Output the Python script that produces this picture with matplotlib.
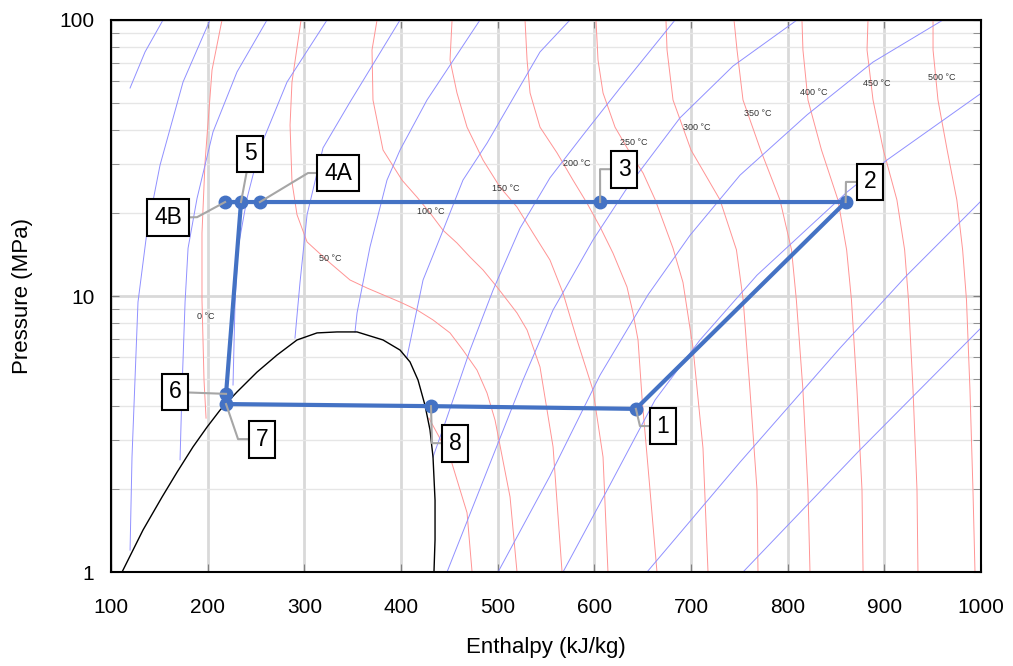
import matplotlib.pyplot as plt
from matplotlib.ticker import FixedLocator, NullLocator, FixedFormatter

# ---- saturation dome (h in kJ/kg, p in MPa) ----
dome_h = [111.4, 133.1, 152.8, 168.3, 184.8, 199.3, 212.8, 230.3, 251.0, 271.7,
          292.4, 313.1, 333.8, 354.5, 381.4, 399.0, 409.3, 417.6, 424.8, 430.0,
          433.1, 435.2, 435.2, 434.1]
dome_p = [1.0, 1.42, 1.87, 2.30, 2.84, 3.35, 3.86, 4.49, 5.30, 6.11,
          6.93, 7.35, 7.41, 7.41, 6.93, 6.37, 5.77, 4.96, 4.02, 3.27,
          2.61, 1.82, 1.31, 1.0]

# ---- isotherms ----
t0_liq_h = [214.8, 204.5, 197.2, 194.1, 194.1, 196.2, 198.3]
t0_liq_p = [100, 65.9, 30.3, 16.9, 9.67, 4.96, 3.61]
t0_vap_h = [428.9, 450.7, 468.3, 473.5]
t0_vap_p = [3.61, 2.61, 1.64, 1.0]
t50_h = [296.6, 287.2, 285.2, 287.2, 292.4, 302.8, 326.6, 347.2, 364.8, 381.4,
         399.0, 416.6, 433.1, 450.7, 464.1, 478.6, 489.0, 497.3, 512.8, 520.0]
t50_p = [100, 59.6, 41.6, 25.9, 19.7, 15.7, 13.17, 11.43, 10.69, 10.1,
         9.51, 8.90, 8.19, 7.35, 6.37, 5.39, 4.45, 3.55, 1.87, 1.0]
t100_h = [375.2, 370.0, 371.0, 381.4, 401.0, 416.6, 430.0, 443.5, 457.9, 471.4,
          484.8, 499.3, 509.7, 520.0, 530.4, 536.6, 543.8, 557.3, 566.6]
t100_p = [100, 77.9, 51.3, 33.8, 26.3, 22.8, 20.0, 17.3, 15.56, 13.84,
          12.43, 10.78, 9.67, 8.68, 7.53, 6.53, 5.53, 2.84, 1.0]
t150_h = [452.8, 450.7, 457.9, 468.3, 484.8, 502.4, 520.0, 536.6, 554.1, 567.6,
          582.1, 598.6, 609.0, 614.1]
t150_p = [100, 71.6, 54.4, 40.9, 31.1, 24.8, 21.0, 16.9, 13.5, 10.25,
          6.93, 4.56, 2.61, 1.0]
t200_h = [528.3, 530.4, 533.5, 543.8, 561.4, 577.9, 592.4, 605.9, 619.3, 633.8,
          640.0, 645.2, 649.5, 657.6, 664.8]
t200_p = [100, 71.6, 54.4, 40.9, 33.0, 26.3, 21.7, 17.8, 14.3, 10.78,
          8.68, 6.93, 4.20, 1.98, 1.0]
t250_h = [601.7, 603.8, 609.0, 621.4, 636.9, 650.4, 663.0, 681.4, 691.7, 702.1, 712.4, 717.6]
t250_p = [100, 71.6, 54.4, 40.9, 33.0, 27.9, 22.3, 14.9, 11.2, 6.48, 2.81, 1.0]

hot_p = [100, 77.9, 51.3, 33.8, 22.3, 14.7, 9.67, 4.56, 1.98, 1.0]
t300_h = [674.1, 675.2, 681.4, 700.0, 730.0, 747.0, 754.0, 761.0, 768.3, 769.3]
t350_h = [744.5, 747.6, 753.8, 772.0, 792.0, 804.0, 809.0, 815.8, 821.0, 823.1]
t400_h = [814.8, 815.8, 821.0, 835.0, 852.0, 861.0, 866.0, 871.7, 876.9, 878.0]
t450_h = [883.1, 882.1, 888.3, 899.0, 913.0, 921.0, 925.0, 929.7, 933.8, 934.8]
t500_h = [950.4, 950.4, 955.5, 965.0, 975.0, 981.0, 985.0, 988.6, 991.7, 993.8]

temp_labels = ['0 °C', '50 °C', '100 °C', '150 °C', '200 °C', '250 °C',
               '300 °C', '350 °C', '400 °C', '450 °C', '500 °C']
temp_label_h = [198.3, 326.6, 431.0, 508.6, 582.1, 641.0, 706.2, 769.3, 827.3, 892.4, 959.7]
temp_label_p = [8.46, 13.7, 20.2, 24.6, 30.1, 36.1, 40.9, 46.0, 54.8, 59.1, 61.7]

# ---- isentropes ----
s1_h = [153.8, 135.2, 119.7]
s1_p = [100, 76.6, 56.7]
s2_h = [202.4, 174.5, 150.7, 137.2, 127.9, 121.7, 119.7]
s2_p = [100, 59.6, 29.8, 17.1, 9.51, 2.61, 1.20]
s3_h = [261.4, 230.3, 205.5, 189.0, 179.7, 176.6, 173.4, 171.4]
s3_p = [100, 64.8, 39.3, 22.6, 14.9, 9.51, 4.56, 2.55]
s4_h = [323.5, 282.1, 254.1, 240.7, 231.4, 228.3, 226.2]
s4_p = [100, 59.6, 34.4, 22.6, 14.9, 9.51, 4.76]
s5_h = [399.0, 347.2, 319.3, 302.8, 295.5, 290.3]
s5_p = [100, 50.4, 34.4, 19.7, 11.2, 7.04]
s6_h = [481.7, 426.9, 399.0, 385.5, 367.9, 354.5, 352.4]
s6_p = [100, 51.3, 33.8, 26.3, 15.05, 8.68, 7.41]
s7_h = [574.8, 543.8, 489.0, 464.1, 443.5, 422.8, 406.2]
s7_p = [100, 76.6, 35.8, 26.3, 17.3, 11.43, 6.01]
s8_h = [433.1, 446.6, 471.4, 495.2, 523.1, 554.1, 588.3, 626.6, 683.5]
s8_p = [2.61, 3.55, 6.37, 10.5, 17.6, 26.8, 38.3, 56.7, 100]
s9_h = [447.6, 526.2, 557.3, 598.6, 633.8, 688.6, 743.5, 809.7]
s9_p = [1.0, 4.96, 8.90, 15.96, 24.6, 44.2, 68.1, 100]
s10_h = [500.4, 554.1, 605.9, 655.5, 699.0, 750.7, 820.0, 888.3, 960.7]
s10_p = [1.0, 2.23, 5.17, 10.1, 16.6, 27.4, 45.3, 70.4, 100]
s11_h = [567.6, 616.2, 662.8, 709.3, 768.3, 861.4, 902.8, 999.0]
s11_p = [1.0, 2.07, 4.20, 6.93, 11.9, 23.8, 31.1, 53.9]
s12_h = [654.5, 750.7, 854.2, 923.5, 999.0]
s12_p = [1.0, 2.50, 6.48, 11.9, 21.9]
s13_h = [753.8, 874.8, 999.0]
s13_p = [1.0, 2.77, 7.6]

# ---- cycle state points ----
pt_names = ['1', '2', '3', '4A', '5', '4B', '6', '7', '8']
pt_h = [643, 860, 606, 254, 234.5, 218, 219, 219, 431]
pt_p = [3.90, 21.9, 21.9, 21.9, 21.9, 21.9, 4.42, 4.06, 3.99]
cycle_order = ['1', '2', '3', '4A', '4B', '5', '6', '7', '8', '1']

box_h = [671.0, 885.2, 630.7, 334.8, 243.8, 159.0, 166.2, 256.2, 455.9]
box_p = [3.38, 25.9, 28.8, 27.9, 32.7, 19.2, 4.49, 3.03, 2.93]
elbow_h = [647.2, 860.3, 605.9, 303.8, 234.5, 189.0, 219, 231.4, 432.1]
elbow_p = [3.38, 25.9, 28.8, 27.9, 21.9, 19.3, 4.42, 3.03, 2.93]

plt.rcParams['font.family'] = ['Liberation Sans', 'DejaVu Sans']

fig = plt.figure(figsize=(10.13, 6.66), dpi=100)
ax = fig.add_axes([0.1096, 0.1411, 0.8588, 0.8289])
ax.set_yscale('log')

red = '#ff9494'
blue = '#9090ff'
for h, p in [(t0_liq_h, t0_liq_p), (t0_vap_h, t0_vap_p), (t50_h, t50_p),
             (t100_h, t100_p), (t150_h, t150_p), (t200_h, t200_p), (t250_h, t250_p)]:
    ax.plot(h, p, color=red, lw=0.7, zorder=2)
for h in [t300_h, t350_h, t400_h, t450_h, t500_h]:
    ax.plot(h, hot_p, color=red, lw=0.7, zorder=2)

for h, p in [(s1_h, s1_p), (s2_h, s2_p), (s3_h, s3_p), (s4_h, s4_p), (s5_h, s5_p),
             (s6_h, s6_p), (s7_h, s7_p), (s8_h, s8_p), (s9_h, s9_p), (s10_h, s10_p),
             (s11_h, s11_p), (s12_h, s12_p), (s13_h, s13_p)]:
    ax.plot(h, p, color=blue, lw=0.7, zorder=2)

ax.plot(dome_h, dome_p, color='black', lw=1.0, zorder=3)

for txt, h, p in zip(temp_labels, temp_label_h, temp_label_p):
    ax.text(h, p, txt, fontsize=6.5, color='#333333', ha='center', va='center', zorder=4)

# cycle
idx = {n: i for i, n in enumerate(pt_names)}
ax.plot([pt_h[idx[n]] for n in cycle_order], [pt_p[idx[n]] for n in cycle_order],
        color='#4472C4', lw=3, zorder=5, solid_joinstyle='round')
ax.plot(pt_h, pt_p, 'o', color='#4472C4', ms=9, zorder=6)

for i, name in enumerate(pt_names):
    ax.plot([pt_h[i], elbow_h[i], box_h[i]], [pt_p[i], elbow_p[i], box_p[i]],
            color='#a6a6a6', lw=1.5, zorder=7)
    ax.text(box_h[i], box_p[i], name, fontsize=16.5, ha='center', va='center', zorder=8,
            bbox=dict(boxstyle='square,pad=0.3', fc='white', ec='black', lw=1.5))

ax.set_xlim(100, 1000)
ax.set_ylim(1, 100)
ax.set_xticks(range(100, 1001, 100))
ax.xaxis.set_minor_locator(NullLocator())
ax.yaxis.set_major_locator(FixedLocator([1, 10, 100]))
ax.yaxis.set_major_formatter(FixedFormatter(['1', '10', '100']))
ax.yaxis.set_minor_locator(FixedLocator([2, 3, 4, 5, 6, 7, 8, 9, 20, 30, 40, 50, 60, 70, 80, 90]))

ax.set_axisbelow(True)
ax.grid(axis='x', which='major', color='#d9d9d9', lw=2)
ax.grid(axis='y', which='major', color='#d9d9d9', lw=2)
ax.grid(axis='y', which='minor', color='#e6e6e6', lw=1)

ax.tick_params(which='both', direction='in', top=True, right=True, color='#808080', length=6)
ax.tick_params(axis='x', labelsize=15, pad=19)
ax.tick_params(axis='y', labelsize=15, pad=12)
for sp in ax.spines.values():
    sp.set_linewidth(1.5)

ax.set_xlabel('Enthalpy (kJ/kg)', fontsize=16, labelpad=14)
ax.set_ylabel('Pressure (MPa)', fontsize=16, labelpad=19)

fig.savefig('out.png', dpi=100)
